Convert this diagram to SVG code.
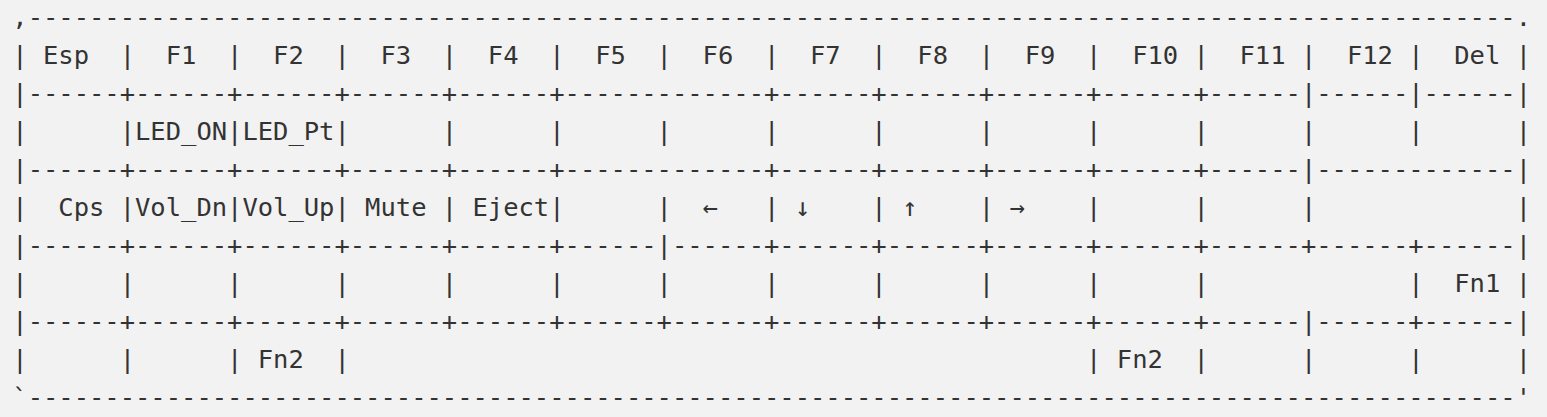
<svg xmlns="http://www.w3.org/2000/svg" width="1547" height="417" viewBox="0 0 1547 417">
<style>
.t{font-family:"DejaVu Sans Mono","Liberation Mono",monospace;font-size:25.5px;fill:#333333;white-space:pre}
</style>
<rect x="0" y="0" width="1547" height="417" fill="#f2f2f2"/>
<g id="keymap" xml:space="preserve">
<text class="t" x="12.3" y="26" textLength="1518.7" lengthAdjust="spacing">,-------------------------------------------------------------------------------------------------.</text>
<text class="t" x="12.3" y="64" textLength="1518.7" lengthAdjust="spacing">| Esp  |  F1  |  F2  |  F3  |  F4  |  F5  |  F6  |  F7  |  F8  |  F9  |  F10 |  F11 |  F12 |  Del |</text>
<text class="t" x="12.3" y="102.1" textLength="1518.7" lengthAdjust="spacing">|------+------+------+------+------+-------------+------+------+------+------+------|------|------|</text>
<text class="t" x="12.3" y="140.1" textLength="1518.7" lengthAdjust="spacing">|      |LED_ON|LED_Pt|      |      |      |      |      |      |      |      |      |      |      |</text>
<text class="t" x="12.3" y="178.2" textLength="1518.7" lengthAdjust="spacing">|------+------+------+------+------+-------------+------+------+------+------+------|-------------|</text>
<text class="t" x="12.3" y="216.2" textLength="1518.7" lengthAdjust="spacing">|  Cps |Vol_Dn|Vol_Up| Mute | Eject|      |  ←   | ↓    | ↑    | →    |      |      |             |</text>
<text class="t" x="12.3" y="254.2" textLength="1518.7" lengthAdjust="spacing">|------+------+------+------+------+------|------+------+------+------+------+------+------+------|</text>
<text class="t" x="12.3" y="292.3" textLength="1518.7" lengthAdjust="spacing">|      |      |      |      |      |      |      |      |      |      |      |             |  Fn1 |</text>
<text class="t" x="12.3" y="330.3" textLength="1518.7" lengthAdjust="spacing">|------+------+------+------+------+------+------+------+------+------+------+------|------+------|</text>
<text class="t" x="12.3" y="368.4" textLength="1518.7" lengthAdjust="spacing">|      |      | Fn2  |                                                | Fn2  |      |      |      |</text>
<text class="t" x="12.3" y="406.4" textLength="1518.7" lengthAdjust="spacing">`-------------------------------------------------------------------------------------------------'</text>
</g>
</svg>
